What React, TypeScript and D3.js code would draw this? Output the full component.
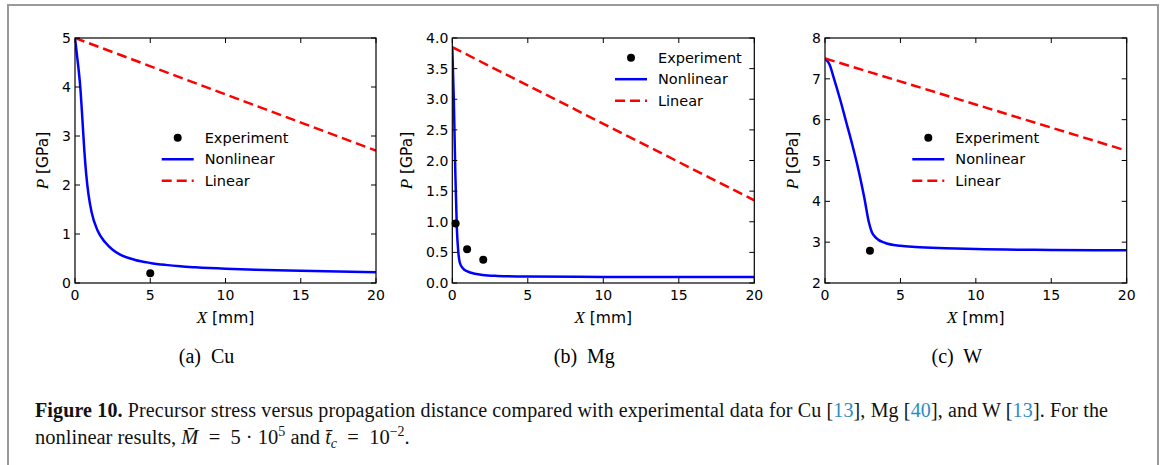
import * as d3 from "d3";

// ---- data ----
const xTicks = [0, 5, 10, 15, 20];

const cuTicks = [0, 1, 2, 3, 4, 5];
const cuNonlinear: [number, number][] = [
  [0, 5], [0.15, 4.6], [0.35, 4.0], [0.5, 3.3], [0.62, 2.7], [0.75, 2.2], [0.9, 1.8],
  [1.1, 1.45], [1.5, 1.07], [2, 0.83], [2.5, 0.68], [3, 0.58], [4, 0.47], [5, 0.41],
  [6, 0.37], [7, 0.34], [8, 0.32], [10, 0.29], [12, 0.27], [15, 0.25], [20, 0.22],
];
const cuLinear: [number, number][] = [[0, 5], [20, 2.7]];
const cuExperiment: [number, number][] = [[5, 0.2]];

const mgTicks = [0, 0.5, 1, 1.5, 2, 2.5, 3, 3.5, 4];
const mgNonlinear: [number, number][] = [
  [0, 3.85], [0.1, 3.0], [0.2, 1.8], [0.3, 0.9], [0.4, 0.5], [0.5, 0.33], [0.7, 0.24],
  [1, 0.19], [1.5, 0.15], [2, 0.13], [3, 0.115], [5, 0.105], [10, 0.1], [20, 0.1],
];
const mgLinear: [number, number][] = [[0, 3.85], [20, 1.35]];
const mgExperiment: [number, number][] = [[0.22, 0.97], [0.98, 0.55], [2.05, 0.38]];

const wTicks = [2, 3, 4, 5, 6, 7, 8];
const wNonlinear: [number, number][] = [
  [0, 7.5], [0.3, 7.35], [0.6, 7.0], [1, 6.5], [1.4, 5.95], [1.8, 5.4], [2.2, 4.8],
  [2.6, 4.1], [2.9, 3.5], [3.1, 3.25], [3.4, 3.1], [4, 2.98], [5, 2.91], [6, 2.88],
  [8, 2.85], [10, 2.83], [15, 2.81], [20, 2.8],
];
const wLinear: [number, number][] = [[0, 7.5], [20, 5.24]];
const wExperiment: [number, number][] = [[2.98, 2.79]];

const legendLabels = ["Experiment", "Nonlinear", "Linear"];

const SANS = "'DejaVu Sans', sans-serif";
const SERIF = "'Liberation Serif', 'DejaVu Serif', serif";

type PanelProps = {
  id: string;
  left: number;
  right: number;
  yDomain: [number, number];
  yTicks: number[];
  yFmt: (v: number) => string;
  nonlinear: [number, number][];
  linear: [number, number][];
  experiment: [number, number][];
  ylabelX: number;
  legend: [number, number]; // x of dot, y of first row
  caption: string;
};

const TOP = 38;
const BOTTOM = 283;

function Panel(p: PanelProps) {
  const x = d3.scaleLinear().domain([0, 20]).range([p.left, p.right]);
  const y = d3.scaleLinear().domain(p.yDomain).range([BOTTOM, TOP]);
  const line = d3.line<[number, number]>().x((d) => x(d[0])).y((d) => y(d[1]));
  const curve = d3
    .line<[number, number]>()
    .x((d) => x(d[0]))
    .y((d) => y(d[1]))
    .curve(d3.curveMonotoneX);
  const tl = 5;
  const [lx, ly] = p.legend;
  const rowH = 21.5;
  const cx = (p.left + p.right) / 2;

  return (
    <g>
      <defs>
        <clipPath id={`clip-${p.id}`}>
          <rect x={p.left} y={TOP} width={p.right - p.left} height={BOTTOM - TOP} />
        </clipPath>
      </defs>
      <g clipPath={`url(#clip-${p.id})`}>
        <path d={curve(p.nonlinear) ?? ""} fill="none" stroke="#0000ff" strokeWidth={2.5} />
        <path
          d={line(p.linear) ?? ""}
          fill="none"
          stroke="#ff0000"
          strokeWidth={2.5}
          strokeDasharray="10,5"
        />
      </g>
      {p.experiment.map((d, i) => (
        <circle key={i} cx={x(d[0])} cy={y(d[1])} r={4} fill="#000" />
      ))}
      {/* ticks on all four sides, pointing in */}
      {xTicks.map((t) => (
        <g key={`x${t}`}>
          <line x1={x(t)} x2={x(t)} y1={BOTTOM} y2={BOTTOM - tl} stroke="#000" />
          <line x1={x(t)} x2={x(t)} y1={TOP} y2={TOP + tl} stroke="#000" />
          <text
            x={x(t)}
            y={BOTTOM + 17}
            textAnchor="middle"
            fontFamily={SANS}
            fontSize={14}
            fill="#000"
          >
            {t}
          </text>
        </g>
      ))}
      {p.yTicks.map((t) => (
        <g key={`y${t}`}>
          <line x1={p.left} x2={p.left + tl} y1={y(t)} y2={y(t)} stroke="#000" />
          <line x1={p.right} x2={p.right - tl} y1={y(t)} y2={y(t)} stroke="#000" />
          <text
            x={p.left - 4}
            y={y(t)}
            dy="0.36em"
            textAnchor="end"
            fontFamily={SANS}
            fontSize={14}
            fill="#000"
          >
            {p.yFmt(t)}
          </text>
        </g>
      ))}
      <rect
        x={p.left}
        y={TOP}
        width={p.right - p.left}
        height={BOTTOM - TOP}
        fill="none"
        stroke="#000"
        strokeWidth={1.2}
      />
      {/* axis labels */}
      <text x={cx} y={BOTTOM + 40} textAnchor="middle" fontSize={15.5} fill="#000">
        <tspan fontFamily={SERIF} fontStyle="italic" fontSize={17}>X</tspan>
        <tspan fontFamily={SANS}> [mm]</tspan>
      </text>
      <text
        transform={`translate(${p.ylabelX},${(TOP + BOTTOM) / 2}) rotate(-90)`}
        dy="0.35em"
        textAnchor="middle"
        fontSize={15.5}
        fill="#000"
      >
        <tspan fontFamily={SERIF} fontStyle="italic" fontSize={17}>P</tspan>
        <tspan fontFamily={SANS}> [GPa]</tspan>
      </text>
      {/* legend */}
      <circle cx={lx} cy={ly} r={4} fill="#000" />
      <line x1={lx - 16} x2={lx + 16} y1={ly + rowH} y2={ly + rowH} stroke="#0000ff" strokeWidth={2.5} />
      <line
        x1={lx - 16}
        x2={lx + 16}
        y1={ly + 2 * rowH}
        y2={ly + 2 * rowH}
        stroke="#ff0000"
        strokeWidth={2.5}
        strokeDasharray="10,5"
      />
      {legendLabels.map((s, i) => (
        <text
          key={s}
          x={lx + 27}
          y={ly + i * rowH}
          dy="0.36em"
          fontFamily={SANS}
          fontSize={14.5}
          fill="#000"
        >
          {s}
        </text>
      ))}
      <text
        x={cx - 19}
        y={363}
        textAnchor="middle"
        fontFamily={SERIF}
        fontSize={20}
        fill="#000"
        style={{ whiteSpace: "pre" }}
      >
        {p.caption}
      </text>
    </g>
  );
}

const int = (v: number) => String(v);
const one = (v: number) => v.toFixed(1);

export default function App() {
  const ref = "#2a8bc4";
  return (
    <svg
      width={1170}
      height={465}
      style={{ position: "absolute", left: 0, top: 0, background: "#fff" }}
    >
      <rect x={8} y={5} width={1150} height={470} fill="#fff" stroke="#9a9a9a" strokeWidth={2} />
      <Panel
        id="cu"
        left={75}
        right={376}
        yDomain={[0, 5]}
        yTicks={cuTicks}
        yFmt={int}
        nonlinear={cuNonlinear}
        linear={cuLinear}
        experiment={cuExperiment}
        ylabelX={43}
        legend={[177.7, 137.7]}
        caption="(a)  Cu"
      />
      <Panel
        id="mg"
        left={452.3}
        right={754.3}
        yDomain={[0, 4]}
        yTicks={mgTicks}
        yFmt={one}
        nonlinear={mgNonlinear}
        linear={mgLinear}
        experiment={mgExperiment}
        ylabelX={407}
        legend={[631, 57.7]}
        caption="(b)  Mg"
      />
      <Panel
        id="w"
        left={825}
        right={1126.7}
        yDomain={[2, 8]}
        yTicks={wTicks}
        yFmt={int}
        nonlinear={wNonlinear}
        linear={wLinear}
        experiment={wExperiment}
        ylabelX={793}
        legend={[928.3, 137.7]}
        caption="(c)  W"
      />
      <text x={35} y={417} fontFamily={SERIF} fontSize={20} fill="#111" textLength={1073} lengthAdjust="spacing">
        <tspan fontWeight="bold">Figure 10.</tspan>
        <tspan> Precursor stress versus propagation distance compared with experimental data for Cu [</tspan>
        <tspan fill={ref}>13</tspan>
        <tspan>], Mg [</tspan>
        <tspan fill={ref}>40</tspan>
        <tspan>], and W [</tspan>
        <tspan fill={ref}>13</tspan>
        <tspan>]. For the</tspan>
      </text>
      <text x={35} y={444} fontFamily={SERIF} fontSize={20.5} fill="#111" style={{ whiteSpace: "pre" }}>
        <tspan>nonlinear results, </tspan>
        <tspan fontStyle="italic">M̄</tspan>
        <tspan>  =  5 · 10</tspan>
        <tspan fontSize={14} dy={-8}>5</tspan>
        <tspan dy={8}> and </tspan>
        <tspan fontStyle="italic">t̄</tspan>
        <tspan fontStyle="italic" fontSize={14} dy={4}>c</tspan>
        <tspan dy={-4}>  =  10</tspan>
        <tspan fontSize={14} dy={-8}>−2</tspan>
        <tspan dy={8}>.</tspan>
      </text>
    </svg>
  );
}
